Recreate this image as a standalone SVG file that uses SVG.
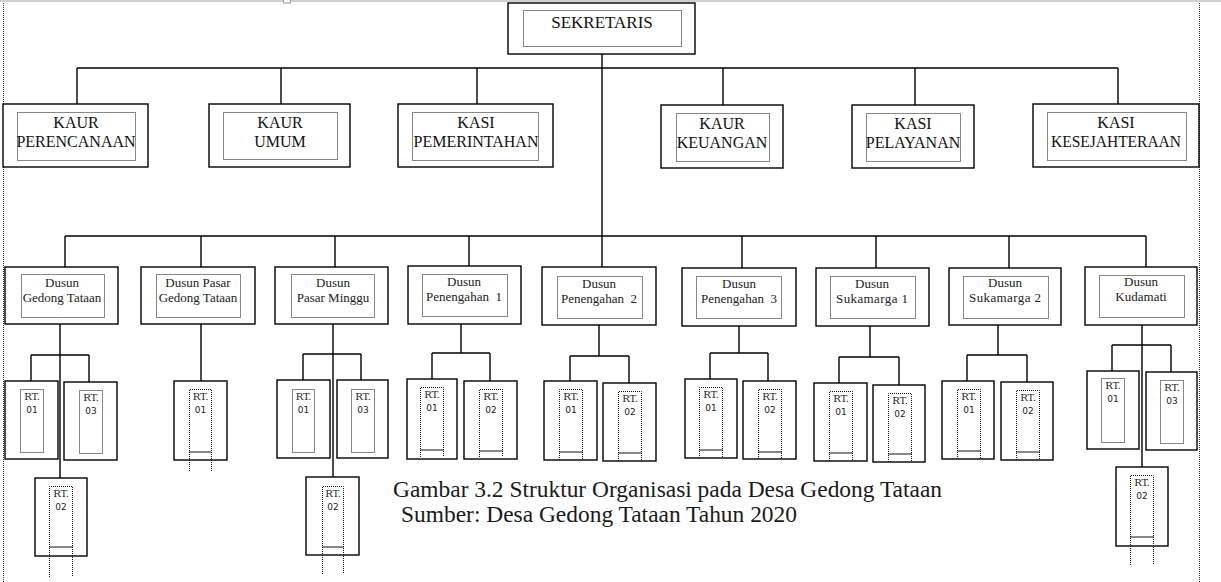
<svg xmlns="http://www.w3.org/2000/svg" width="1221" height="582" viewBox="0 0 1221 582">
<style>
.box{fill:#fff;stroke:#000;stroke-width:1.4}
.in{fill:none;stroke:#111;stroke-width:1;stroke-dasharray:1 1}
.wav{fill:none;stroke:#111;stroke-width:2;stroke-dasharray:1 1}
.conn line{stroke:#000;stroke-width:1.4}
.page{stroke:#333;stroke-width:1;stroke-dasharray:1 1}
.t1{font-family:"Liberation Serif",serif;font-size:16px;fill:#111;text-anchor:middle}
.t0{font-family:"Liberation Serif",serif;font-size:17px;fill:#111;text-anchor:middle}
.t2{font-family:"Liberation Serif",serif;font-size:13px;fill:#222;text-anchor:middle}
.rt{font-family:"DejaVu Serif",serif;font-size:10px;fill:#222;text-anchor:middle}
.num{font-family:"DejaVu Sans",sans-serif;font-size:9px;fill:#222;text-anchor:middle}
.cap{font-family:"Liberation Serif",serif;font-size:23px;fill:#1a1a1a}
</style>
<rect x="0" y="0" width="1221" height="582" fill="#fff"/>
<g id="page">
<rect x="0" y="0" width="1221" height="2" fill="#cfd0d4"/>
<rect x="283.5" y="-1" width="7" height="4" fill="#fff" stroke="#999" stroke-width="1"/>
<line class="page" x1="3.5" y1="3" x2="3.5" y2="582"/>
<line class="page" x1="1199.5" y1="3" x2="1199.5" y2="582"/>
</g>
<g class="conn" id="connectors">
<line x1="602" y1="54" x2="602" y2="236"/>
<line x1="77" y1="68" x2="1118" y2="68"/>
<line x1="77" y1="68" x2="77" y2="104"/>
<line x1="281" y1="68" x2="281" y2="104"/>
<line x1="477" y1="68" x2="477" y2="104"/>
<line x1="723" y1="68" x2="723" y2="105"/>
<line x1="915" y1="68" x2="915" y2="105"/>
<line x1="1118" y1="68" x2="1118" y2="104"/>
<line x1="65" y1="236" x2="1146" y2="236"/>
<line x1="65" y1="236" x2="65" y2="267"/>
<line x1="201" y1="236" x2="201" y2="267"/>
<line x1="335" y1="236" x2="335" y2="267"/>
<line x1="469" y1="236" x2="469" y2="266"/>
<line x1="602" y1="236" x2="602" y2="267"/>
<line x1="742" y1="236" x2="742" y2="268"/>
<line x1="876" y1="236" x2="876" y2="268"/>
<line x1="1009" y1="236" x2="1009" y2="268"/>
<line x1="1146" y1="236" x2="1146" y2="267"/>
<line x1="60" y1="324" x2="60" y2="478"/>
<line x1="31" y1="355" x2="89" y2="355"/>
<line x1="31" y1="355" x2="31" y2="381"/>
<line x1="89" y1="355" x2="89" y2="382"/>
<line x1="201" y1="324" x2="201" y2="381"/>
<line x1="333" y1="324" x2="333" y2="477"/>
<line x1="303" y1="354" x2="361" y2="354"/>
<line x1="303" y1="354" x2="303" y2="380"/>
<line x1="361" y1="354" x2="361" y2="380"/>
<line x1="461" y1="324" x2="461" y2="353"/>
<line x1="432" y1="353" x2="490" y2="353"/>
<line x1="432" y1="353" x2="432" y2="379"/>
<line x1="490" y1="353" x2="490" y2="381"/>
<line x1="599" y1="325" x2="599" y2="356"/>
<line x1="570" y1="356" x2="629" y2="356"/>
<line x1="570" y1="356" x2="570" y2="381"/>
<line x1="629" y1="356" x2="629" y2="383"/>
<line x1="739" y1="326" x2="739" y2="353"/>
<line x1="710" y1="353" x2="768" y2="353"/>
<line x1="710" y1="353" x2="710" y2="379"/>
<line x1="768" y1="353" x2="768" y2="381"/>
<line x1="870" y1="326" x2="870" y2="357"/>
<line x1="839" y1="357" x2="899" y2="357"/>
<line x1="839" y1="357" x2="839" y2="383"/>
<line x1="899" y1="357" x2="899" y2="385"/>
<line x1="998" y1="325" x2="998" y2="355"/>
<line x1="967" y1="355" x2="1027" y2="355"/>
<line x1="967" y1="355" x2="967" y2="381"/>
<line x1="1027" y1="355" x2="1027" y2="382"/>
<line x1="1142" y1="324" x2="1142" y2="467"/>
<line x1="1112" y1="345" x2="1171" y2="345"/>
<line x1="1112" y1="345" x2="1112" y2="371"/>
<line x1="1171" y1="345" x2="1171" y2="372"/>
</g>

<g id="sekretaris">
<rect class="box" x="508" y="3" width="187" height="51"/>
<rect class="in" x="523.5" y="10.5" width="158" height="36"/>
<text class="t0" x="602" y="28">SEKRETARIS</text>
</g>
<g id="kaur-perencanaan">
<rect class="box" x="3" y="104" width="145" height="63"/>
<rect class="in" x="17.5" y="112.5" width="118" height="48"/>
<text class="t1" x="76" y="128">KAUR</text>
<text class="t1" x="76" y="147">PERENCANAAN</text>
</g>
<g id="kaur-umum">
<rect class="box" x="209" y="104" width="141" height="63"/>
<rect class="in" x="223.5" y="112.5" width="114" height="47"/>
<text class="t1" x="280" y="128">KAUR</text>
<text class="t1" x="280" y="147">UMUM</text>
</g>
<g id="kasi-pemerintahan">
<rect class="box" x="398" y="104" width="155" height="63"/>
<rect class="in" x="412.5" y="112.5" width="126" height="48"/>
<text class="t1" x="476" y="128">KASI</text>
<text class="t1" x="476" y="147">PEMERINTAHAN</text>
</g>
<g id="kaur-keuangan">
<rect class="box" x="661" y="105" width="122" height="63"/>
<rect class="in" x="676.5" y="113.5" width="93" height="48"/>
<text class="t1" x="722" y="129">KAUR</text>
<text class="t1" x="722" y="148">KEUANGAN</text>
</g>
<g id="kasi-pelayanan">
<rect class="box" x="852" y="105" width="122" height="63"/>
<rect class="in" x="866.5" y="113.5" width="94" height="48"/>
<text class="t1" x="913" y="129">KASI</text>
<text class="t1" x="913" y="148">PELAYANAN</text>
</g>
<g id="kasi-kesejahteraan">
<rect class="box" x="1033" y="104" width="166" height="63"/>
<rect class="in" x="1047.5" y="112.5" width="139" height="48"/>
<text class="t1" x="1116" y="128">KASI</text>
<text class="t1" x="1116" y="147" textLength="130" lengthAdjust="spacingAndGlyphs">KESEJAHTERAAN</text>
</g>

<g id="dusun-gedong-tataan">
<rect class="box" x="5" y="267" width="113" height="57"/>
<rect class="in" x="21.5" y="274.5" width="83" height="43"/>
<text class="t2" x="62" y="287">Dusun</text>
<text class="t2" x="62" y="302">Gedong Tataan</text>
</g>
<g id="dusun-pasar-gedong-tataan">
<rect class="box" x="141" y="267" width="114" height="57"/>
<rect class="in" x="156.5" y="274.5" width="84" height="43"/>
<text class="t2" x="198" y="287">Dusun Pasar</text>
<text class="t2" x="198" y="302">Gedong Tataan</text>
</g>
<g id="dusun-pasar-minggu">
<rect class="box" x="275" y="267" width="113" height="57"/>
<rect class="in" x="291.5" y="274.5" width="83" height="43"/>
<text class="t2" x="333" y="287">Dusun</text>
<text class="t2" x="333" y="302">Pasar Minggu</text>
</g>
<g id="dusun-penengahan-1">
<rect class="box" x="408" y="266" width="113" height="58"/>
<rect class="in" x="422.5" y="274.5" width="85" height="42"/>
<text class="t2" x="464" y="286">Dusun</text>
<text class="t2" x="464" y="301">Penengahan&#160; 1</text>
</g>
<g id="dusun-penengahan-2">
<rect class="box" x="542" y="267" width="114" height="58"/>
<rect class="in" x="557.5" y="276.5" width="85" height="42"/>
<text class="t2" x="599" y="288">Dusun</text>
<text class="t2" x="599" y="303">Penengahan&#160; 2</text>
</g>
<g id="dusun-penengahan-3">
<rect class="box" x="682" y="268" width="114" height="58"/>
<rect class="in" x="696.5" y="276.5" width="85" height="42"/>
<text class="t2" x="739" y="288">Dusun</text>
<text class="t2" x="739" y="303">Penengahan&#160; 3</text>
</g>
<g id="dusun-sukamarga-1">
<rect class="box" x="816" y="268" width="113" height="58"/>
<rect class="in" x="830.5" y="276.5" width="85" height="42"/>
<text class="t2" x="872" y="288">Dusun</text>
<text class="t2" x="872" y="303" textLength="72">Sukamarga 1</text>
</g>
<g id="dusun-sukamarga-2">
<rect class="box" x="949" y="268" width="112" height="57"/>
<rect class="in" x="963.5" y="276.5" width="85" height="42"/>
<text class="t2" x="1005" y="287">Dusun</text>
<text class="t2" x="1005" y="302" textLength="72">Sukamarga 2</text>
</g>
<g id="dusun-kudamati">
<rect class="box" x="1085" y="267" width="112" height="58"/>
<rect class="in" x="1099.5" y="275.5" width="85" height="42"/>
<text class="t2" x="1141" y="286">Dusun</text>
<text class="t2" x="1141" y="301">Kudamati</text>
</g>

<g id="gt-rt01">
<rect class="box" x="5" y="381" width="53" height="78"/>
<rect class="in" x="20.5" y="389.5" width="23" height="63"/>
<text class="rt" x="32" y="400">RT.</text><text class="num" x="32" y="413">01</text>
</g>
<g id="gt-rt03">
<rect class="box" x="64" y="382" width="53" height="78"/>
<rect class="in" x="79.5" y="390.5" width="23" height="63"/>
<text class="rt" x="91" y="401">RT.</text><text class="num" x="91" y="414">03</text>
</g>
<g id="gt-rt02">
<rect class="box" x="35" y="478" width="52" height="78"/>
<path class="in" d="M49.5,577 V486.5 H72.5 V577"/><line class="wav" x1="49.5" y1="547" x2="72.5" y2="547"/>
<text class="rt" x="61" y="497">RT.</text><text class="num" x="61" y="510">02</text>
</g>
<g id="pgt-rt01">
<rect class="box" x="174" y="381" width="53" height="79"/>
<path class="in" d="M189.5,471 V389.5 H211.5 V471"/><line class="wav" x1="189.5" y1="452" x2="211.5" y2="452"/>
<text class="rt" x="200.5" y="400">RT.</text><text class="num" x="200.5" y="413">01</text>
</g>
<g id="pm-rt01">
<rect class="box" x="277" y="380" width="53" height="78"/>
<rect class="in" x="292.5" y="389.5" width="22" height="63"/>
<text class="rt" x="303.5" y="400">RT.</text><text class="num" x="303.5" y="413">01</text>
</g>
<g id="pm-rt03">
<rect class="box" x="337" y="380" width="51" height="78"/>
<rect class="in" x="351.5" y="389.5" width="23" height="63"/>
<text class="rt" x="363" y="400">RT.</text><text class="num" x="363" y="413">03</text>
</g>
<g id="pm-rt02">
<rect class="box" x="306" y="477" width="53" height="78"/>
<path class="in" d="M322.5,574 V486.5 H343.5 V574"/><line class="wav" x1="322.5" y1="547" x2="343.5" y2="547"/>
<text class="rt" x="333" y="497">RT.</text><text class="num" x="333" y="510">02</text>
</g>
<g id="p1-rt01">
<rect class="box" x="407" y="379" width="50" height="80"/>
<path class="in" d="M420.5,457 V387.5 H443.5 V457"/><line class="wav" x1="420.5" y1="450" x2="443.5" y2="450"/>
<text class="rt" x="432" y="398">RT.</text><text class="num" x="432" y="411">01</text>
</g>
<g id="p1-rt02">
<rect class="box" x="464" y="381" width="53" height="78"/>
<path class="in" d="M479.5,457 V389.5 H502.5 V457"/><line class="wav" x1="479.5" y1="451" x2="502.5" y2="451"/>
<text class="rt" x="491" y="400">RT.</text><text class="num" x="491" y="413">02</text>
</g>
<g id="p2-rt01">
<rect class="box" x="544" y="381" width="53" height="79"/>
<path class="in" d="M559.5,460 V389.5 H582.5 V460"/><line class="wav" x1="559.5" y1="452" x2="582.5" y2="452"/>
<text class="rt" x="571" y="400">RT.</text><text class="num" x="571" y="413">01</text>
</g>
<g id="p2-rt02">
<rect class="box" x="603" y="383" width="53" height="78"/>
<path class="in" d="M618.5,461 V391.5 H641.5 V461"/><line class="wav" x1="618.5" y1="453" x2="641.5" y2="453"/>
<text class="rt" x="630" y="402">RT.</text><text class="num" x="630" y="415">02</text>
</g>
<g id="p3-rt01">
<rect class="box" x="685" y="379" width="52" height="79"/>
<path class="in" d="M699.5,458 V387.5 H722.5 V458"/><line class="wav" x1="699.5" y1="450" x2="722.5" y2="450"/>
<text class="rt" x="711" y="398">RT.</text><text class="num" x="711" y="411">01</text>
</g>
<g id="p3-rt02">
<rect class="box" x="743" y="381" width="53" height="78"/>
<path class="in" d="M758.5,459 V389.5 H781.5 V459"/><line class="wav" x1="758.5" y1="452" x2="781.5" y2="452"/>
<text class="rt" x="770" y="400">RT.</text><text class="num" x="770" y="413">02</text>
</g>
<g id="s1-rt01">
<rect class="box" x="814" y="383" width="53" height="78"/>
<path class="in" d="M829.5,461 V391.5 H852.5 V461"/><line class="wav" x1="829.5" y1="453" x2="852.5" y2="453"/>
<text class="rt" x="841" y="402">RT.</text><text class="num" x="841" y="415">01</text>
</g>
<g id="s1-rt02">
<rect class="box" x="873" y="385" width="52" height="77"/>
<path class="in" d="M888.5,462 V393.5 H911.5 V462"/><line class="wav" x1="888.5" y1="454" x2="911.5" y2="454"/>
<text class="rt" x="900" y="404">RT.</text><text class="num" x="900" y="417">02</text>
</g>
<g id="s2-rt01">
<rect class="box" x="942" y="381" width="52" height="78"/>
<path class="in" d="M957.5,459 V389.5 H980.5 V459"/><line class="wav" x1="957.5" y1="451" x2="980.5" y2="451"/>
<text class="rt" x="969" y="400">RT.</text><text class="num" x="969" y="413">01</text>
</g>
<g id="s2-rt02">
<rect class="box" x="1001" y="382" width="52" height="78"/>
<path class="in" d="M1016.5,460 V390.5 H1039.5 V460"/><line class="wav" x1="1016.5" y1="452" x2="1039.5" y2="452"/>
<text class="rt" x="1028" y="401">RT.</text><text class="num" x="1028" y="414">02</text>
</g>
<g id="k-rt01">
<rect class="box" x="1087" y="371" width="52" height="78"/>
<rect class="in" x="1101.5" y="378.5" width="23" height="64"/>
<text class="rt" x="1113" y="389">RT.</text><text class="num" x="1113" y="402">01</text>
</g>
<g id="k-rt03">
<rect class="box" x="1146" y="372" width="51" height="78"/>
<rect class="in" x="1160.5" y="380.5" width="23" height="63"/>
<text class="rt" x="1172" y="391">RT.</text><text class="num" x="1172" y="404">03</text>
</g>
<g id="k-rt02">
<rect class="box" x="1116" y="467" width="52" height="79"/>
<path class="in" d="M1130.5,565 V475.5 H1153.5 V565"/><line class="wav" x1="1130.5" y1="537" x2="1153.5" y2="537"/>
<text class="rt" x="1142" y="486">RT.</text><text class="num" x="1142" y="499">02</text>
</g>

<g id="caption">
<text class="cap" x="393" y="497" textLength="549" lengthAdjust="spacingAndGlyphs">Gambar 3.2 Struktur Organisasi pada Desa Gedong Tataan</text>
<text class="cap" x="401" y="522" textLength="396" lengthAdjust="spacingAndGlyphs">Sumber: Desa Gedong Tataan Tahun 2020</text>
</g>
</svg>
